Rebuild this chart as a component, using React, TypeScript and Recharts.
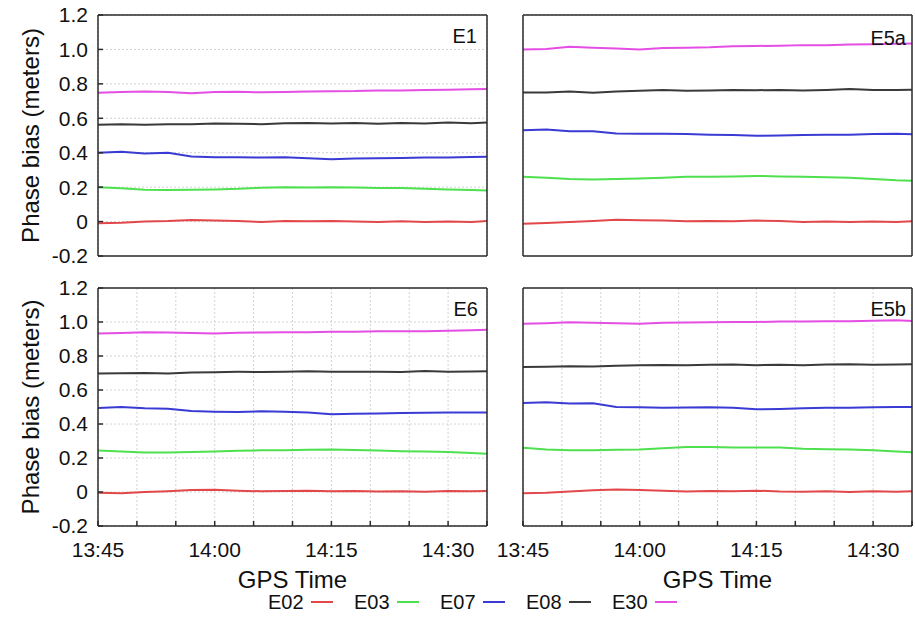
import React from 'react';
import { LineChart, Line, XAxis, YAxis, CartesianGrid } from 'recharts';

// minutes after 13:45
const TIMES = [0, 3, 6, 9, 12, 15, 18, 21, 24, 27, 30, 33, 36, 39, 42, 45, 48, 50];
const X_TICKS = [0, 5, 10, 15, 20, 25, 30, 35, 40, 45, 50];
const X_LABEL_AT = [0, 15, 30, 45];
const X_LABELS = ['13:45', '14:00', '14:15', '14:30'];
const Y_TICKS = [-0.2, 0, 0.2, 0.4, 0.6, 0.8, 1.0, 1.2];
const Y_LABELS = ['-0.2', '0', '0.2', '0.4', '0.6', '0.8', '1.0', '1.2'];

const SATS = ['E02', 'E03', 'E07', 'E08', 'E30'];
const COLORS = ['#e2474a', '#4ee04e', '#3a3ad4', '#3a3a3a', '#e44ee4'];

// E1
const e1_E02 = [-0.01, -0.007, 0, 0.003, 0.009, 0.006, 0.003, -0.002, 0.003, 0.002, 0.004, 0, -0.002, 0.002, -0.003, 0, -0.002, 0.003];
const e1_E03 = [0.2, 0.193, 0.185, 0.183, 0.185, 0.187, 0.19, 0.197, 0.2, 0.198, 0.2, 0.198, 0.195, 0.195, 0.19, 0.187, 0.183, 0.18];
const e1_E07 = [0.4, 0.405, 0.395, 0.4, 0.378, 0.373, 0.374, 0.372, 0.373, 0.368, 0.362, 0.366, 0.368, 0.37, 0.372, 0.372, 0.375, 0.377];
const e1_E08 = [0.562, 0.565, 0.562, 0.566, 0.565, 0.57, 0.568, 0.566, 0.571, 0.573, 0.57, 0.572, 0.568, 0.572, 0.57, 0.575, 0.571, 0.575];
const e1_E30 = [0.748, 0.752, 0.755, 0.753, 0.746, 0.752, 0.754, 0.751, 0.753, 0.755, 0.757, 0.758, 0.762, 0.761, 0.764, 0.766, 0.768, 0.77];

// E5a
const e5a_E02 = [-0.012, -0.008, -0.002, 0.003, 0.01, 0.008, 0.006, 0.002, 0.004, 0.002, 0.006, 0.003, -0.002, 0, -0.003, 0, -0.002, 0.002];
const e5a_E03 = [0.26, 0.255, 0.248, 0.245, 0.247, 0.25, 0.255, 0.26, 0.26, 0.262, 0.265, 0.262, 0.26, 0.258, 0.255, 0.248, 0.24, 0.237];
const e5a_E07 = [0.53, 0.535, 0.525, 0.525, 0.512, 0.51, 0.51, 0.508, 0.505, 0.503, 0.498, 0.5, 0.503, 0.505, 0.505, 0.508, 0.51, 0.507];
const e5a_E08 = [0.75, 0.75, 0.755, 0.748, 0.755, 0.76, 0.765, 0.76, 0.762, 0.765, 0.763, 0.765, 0.762, 0.765, 0.77, 0.765, 0.765, 0.766];
const e5a_E30 = [1.0, 1.003, 1.015, 1.01, 1.005, 1.0, 1.008, 1.01, 1.012, 1.018, 1.02, 1.022, 1.025, 1.025, 1.028, 1.03, 1.033, 1.035];

// E6
const e6_E02 = [-0.005, -0.008, 0, 0.005, 0.012, 0.013, 0.008, 0.004, 0.006, 0.008, 0.005, 0.006, 0.003, 0.005, 0.002, 0.006, 0.004, 0.006];
const e6_E03 = [0.244, 0.238, 0.233, 0.233, 0.236, 0.238, 0.242, 0.245, 0.246, 0.248, 0.25, 0.247, 0.244, 0.24, 0.238, 0.235, 0.23, 0.225];
const e6_E07 = [0.494, 0.5, 0.492, 0.49, 0.477, 0.472, 0.47, 0.475, 0.472, 0.468, 0.458, 0.46, 0.462, 0.465, 0.466, 0.467, 0.468, 0.468];
const e6_E08 = [0.697, 0.698, 0.7, 0.697, 0.703, 0.705, 0.707, 0.706, 0.708, 0.71, 0.707, 0.708, 0.707, 0.706, 0.712, 0.708, 0.709, 0.71];
const e6_E30 = [0.933, 0.935, 0.94, 0.938, 0.935, 0.932, 0.937, 0.938, 0.94, 0.94, 0.942, 0.943, 0.945, 0.946, 0.945, 0.948, 0.952, 0.955];

// E5b
const e5b_E02 = [-0.008, -0.005, 0.003, 0.01, 0.015, 0.012, 0.007, 0.003, 0.006, 0.005, 0.008, 0.003, 0.002, 0.004, 0, 0.004, 0.002, 0.005];
const e5b_E03 = [0.26, 0.25, 0.245, 0.245, 0.248, 0.25, 0.258, 0.264, 0.265, 0.262, 0.262, 0.262, 0.255, 0.252, 0.25, 0.245, 0.238, 0.234];
const e5b_E07 = [0.523, 0.528, 0.52, 0.522, 0.5, 0.498, 0.495, 0.497, 0.498, 0.495, 0.487, 0.488, 0.492, 0.495, 0.495, 0.498, 0.5, 0.5];
const e5b_E08 = [0.735, 0.737, 0.74, 0.738, 0.742, 0.745, 0.747, 0.745, 0.748, 0.75, 0.746, 0.748, 0.745, 0.75, 0.752, 0.748, 0.75, 0.752];
const e5b_E30 = [0.99, 0.993, 0.998, 0.995, 0.992, 0.99, 0.995, 0.997, 0.998, 1.0, 1.0, 1.003, 1.003, 1.005, 1.005, 1.008, 1.01, 1.006];

const FONT = '"Liberation Sans", Arial, Helvetica, sans-serif';
const AXIS = '#2b2b2b';

const makeRows = (series: number[][]) =>
  TIMES.map((t, i) => {
    const row: Record<string, number> = { t };
    SATS.forEach((s, k) => (row[s] = series[k][i]));
    return row;
  });

const xFmt = (v: number) => {
  const i = X_LABEL_AT.indexOf(v);
  return i >= 0 ? X_LABELS[i] : '';
};
const yFmt = (v: number) => Y_LABELS[Y_TICKS.indexOf(v)] ?? '';

type PanelProps = {
  rows: Record<string, number>[];
  left: number;
  top: number;
  width: number;
  height: number;
  marginTop: number;
  marginRight: number;
  yWidth: number;
  xHeight: number;
  showY: boolean;
  showX: boolean;
};

const Panel = ({ rows, left, top, width, height, marginTop, marginRight, yWidth, xHeight, showY, showX }: PanelProps) => (
  <div style={{ position: 'absolute', left, top }}>
    <LineChart
      width={width}
      height={height}
      data={rows}
      margin={{ top: marginTop, right: marginRight, bottom: 0, left: 0 }}
    >
      <CartesianGrid stroke="#d2d2d2" strokeDasharray="2 2" />
      <XAxis
        dataKey="t"
        type="number"
        domain={[0, 50]}
        allowDataOverflow
        ticks={X_TICKS}
        interval={0}
        height={xHeight}
        stroke={AXIS}
        strokeWidth={1.5}
        tickSize={-5}
        tickMargin={showX ? 21 : 0}
        tick={showX ? { fontSize: 21, fill: '#111', fontFamily: FONT } : false}
        tickFormatter={xFmt}
        label={
          showX
            ? { value: 'GPS Time', position: 'insideBottom', offset: 4, fontSize: 24, fill: '#111', fontFamily: FONT }
            : undefined
        }
      />
      <XAxis
        xAxisId="top"
        orientation="top"
        dataKey="t"
        type="number"
        domain={[0, 50]}
        allowDataOverflow
        ticks={X_TICKS}
        interval={0}
        height={1}
        stroke={AXIS}
        strokeWidth={1.5}
        tickSize={-5}
        tick={false}
      />
      <YAxis
        type="number"
        domain={[-0.2, 1.2]}
        allowDataOverflow
        ticks={Y_TICKS}
        interval={0}
        width={yWidth}
        stroke={AXIS}
        strokeWidth={1.5}
        tickSize={-5}
        tickMargin={showY ? 15 : 0}
        tick={showY ? { fontSize: 21, fill: '#111', fontFamily: FONT } : false}
        tickFormatter={yFmt}
        label={
          showY
            ? {
                value: 'Phase bias (meters)',
                angle: -90,
                position: 'insideLeft',
                offset: 30,
                fontSize: 24,
                fill: '#111',
                fontFamily: FONT,
                style: { textAnchor: 'middle' },
              }
            : undefined
        }
      />
      <YAxis
        yAxisId="right"
        orientation="right"
        type="number"
        domain={[-0.2, 1.2]}
        allowDataOverflow
        ticks={Y_TICKS}
        interval={0}
        width={1}
        stroke={AXIS}
        strokeWidth={1.5}
        tickSize={-5}
        tick={false}
      />
      {SATS.map((s, k) => (
        <Line
          key={s}
          type="linear"
          dataKey={s}
          stroke={COLORS[k]}
          strokeWidth={2}
          dot={false}
          isAnimationActive={false}
        />
      ))}
    </LineChart>
  </div>
);

const panelTag = (text: string, right: number, top: number) => (
  <div
    style={{
      position: 'absolute',
      right,
      top,
      fontSize: 20,
      lineHeight: '20px',
      fontFamily: FONT,
      color: '#111',
    }}
  >
    {text}
  </div>
);

const App = () => (
  <div style={{ position: 'absolute', left: 0, top: 0, width: 915, height: 627, background: '#fff', fontFamily: FONT }}>
    <style>{'.recharts-surface{overflow:visible !important}'}</style>
    <Panel
      rows={makeRows([e1_E02, e1_E03, e1_E07, e1_E08, e1_E30])}
      left={0} top={0} width={500} height={262}
      marginTop={14} marginRight={12} yWidth={98} xHeight={6}
      showY showX={false}
    />
    <Panel
      rows={makeRows([e5a_E02, e5a_E03, e5a_E07, e5a_E08, e5a_E30])}
      left={500} top={0} width={415} height={262}
      marginTop={14} marginRight={2} yWidth={23} xHeight={6}
      showY={false} showX={false}
    />
    <Panel
      rows={makeRows([e6_E02, e6_E03, e6_E07, e6_E08, e6_E30])}
      left={0} top={262} width={500} height={330}
      marginTop={25} marginRight={12} yWidth={98} xHeight={66}
      showY showX
    />
    <Panel
      rows={makeRows([e5b_E02, e5b_E03, e5b_E07, e5b_E08, e5b_E30])}
      left={500} top={262} width={415} height={330}
      marginTop={25} marginRight={2} yWidth={23} xHeight={66}
      showY={false} showX
    />
    {panelTag('E1', 438, 26)}
    {panelTag('E5a', 9, 28)}
    {panelTag('E6', 437, 299)}
    {panelTag('E5b', 9, 299)}
    <div
      style={{
        position: 'absolute',
        left: 268,
        top: 590,
        display: 'flex',
        alignItems: 'center',
        fontSize: 20,
        lineHeight: '24px',
        color: '#111',
      }}
    >
      {SATS.map((s, k) => (
        <div key={s} style={{ display: 'flex', alignItems: 'center', width: 86 }}>
          <span>{s}</span>
          <span style={{ display: 'inline-block', width: 22, height: 2, background: COLORS[k], marginLeft: 7 }} />
        </div>
      ))}
    </div>
  </div>
);

export default App;
